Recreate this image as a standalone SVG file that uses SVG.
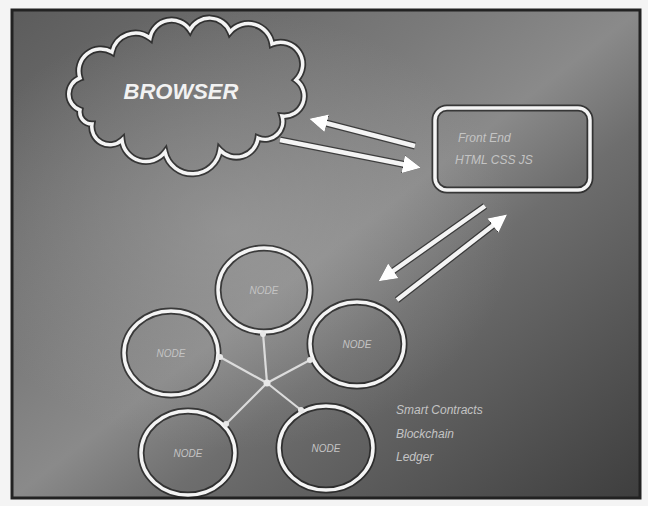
<svg xmlns="http://www.w3.org/2000/svg" width="648" height="506" viewBox="0 0 648 506">
<defs>
<linearGradient id="bg" x1="0" y1="0" x2="1" y2="1">
<stop offset="0" stop-color="#5c5c5c"/>
<stop offset="0.35" stop-color="#7a7a7a"/>
<stop offset="0.5" stop-color="#8a8a8a"/>
<stop offset="0.62" stop-color="#6e6e6e"/>
<stop offset="1" stop-color="#3e3e3e"/>
</linearGradient>
<radialGradient id="glow" cx="0.35" cy="0.45" r="0.45">
<stop offset="0" stop-color="#a8a8a8" stop-opacity="0.5"/>
<stop offset="1" stop-color="#a8a8a8" stop-opacity="0"/>
</radialGradient>
<marker id="head" viewBox="0 0 10 10" refX="5" refY="5" markerWidth="4" markerHeight="4" orient="auto" markerUnits="strokeWidth">
<path d="M0,0 L10,5 L0,10 Z" fill="#ffffff"/>
</marker>
<marker id="headHalo" viewBox="0 0 10 10" refX="5" refY="5" markerWidth="2.6" markerHeight="2.6" orient="auto" markerUnits="strokeWidth">
<path d="M0,0 L10,5 L0,10 Z" fill="#1e1e1e"/>
</marker>
</defs>
<style>
.halo{fill:none;stroke:#1e1e1e;stroke-width:7;stroke-opacity:0.75}
.line{fill:none;stroke:#f4f4f4;stroke-width:3.5}
.thin{fill:none;stroke:#dcdcdc;stroke-width:2.2}
.ah{fill:none;stroke:#f4f4f4;stroke-width:4.5}
.ahh{fill:none;stroke:#1e1e1e;stroke-width:7;stroke-opacity:0.7}
.lbl{font-family:"Liberation Sans",Arial,sans-serif;font-style:italic;font-weight:bold;fill:#f2f2f2}
.faint{font-family:"Liberation Sans",Arial,sans-serif;font-style:italic;fill:#c4c4c4;font-size:10px}
.dot{fill:#e8e8e8}
</style>
<rect x="0" y="0" width="648" height="506" fill="#f4f4f4"/>
<rect x="12" y="10" width="628" height="488" fill="url(#bg)"/>
<rect x="12" y="10" width="628" height="488" fill="url(#glow)"/>
<rect x="12" y="10" width="628" height="488" fill="none" stroke="#222" stroke-width="3"/>

<g id="browser">
<path class="halo" d="M80,110 A17 17 0 0 1 80,78 A22 22 0 0 1 112,52 A24 24 0 0 1 150,38 A22 22 0 0 1 190,30 A22 22 0 0 1 230,32 A24 24 0 0 1 272,44 A22 22 0 0 1 296,80 A20 20 0 0 1 282,116 A18 18 0 0 1 258,138 A22 22 0 0 1 220,150 A28 28 0 0 1 165,152 A24 24 0 0 1 122,140 A18 18 0 0 1 92,124 A12 12 0 0 1 80,110 Z"/>
<path class="line" d="M80,110 A17 17 0 0 1 80,78 A22 22 0 0 1 112,52 A24 24 0 0 1 150,38 A22 22 0 0 1 190,30 A22 22 0 0 1 230,32 A24 24 0 0 1 272,44 A22 22 0 0 1 296,80 A20 20 0 0 1 282,116 A18 18 0 0 1 258,138 A22 22 0 0 1 220,150 A28 28 0 0 1 165,152 A24 24 0 0 1 122,140 A18 18 0 0 1 92,124 A12 12 0 0 1 80,110 Z"/>
<text class="lbl" x="181" y="99" font-size="22" text-anchor="middle">BROWSER</text>
</g>

<g id="frontend">
<rect x="435" y="108" width="155" height="82" rx="12" class="halo"/>
<rect x="435" y="108" width="155" height="82" rx="12" class="line"/>
<text class="faint" x="458" y="142" style="font-size:12px">Front End</text>
<text class="faint" x="455" y="164" style="font-size:12px">HTML CSS JS</text>
</g>

<g id="nodes">
<g id="node-top">
<ellipse cx="264" cy="290" rx="46" ry="42" class="halo"/>
<ellipse cx="264" cy="290" rx="46" ry="42" class="line"/>
<text class="faint" x="264" y="294" text-anchor="middle">NODE</text>
</g>
<g id="node-left">
<ellipse cx="171" cy="353" rx="47" ry="42" class="halo"/>
<ellipse cx="171" cy="353" rx="47" ry="42" class="line"/>
<text class="faint" x="171" y="357" text-anchor="middle">NODE</text>
</g>
<g id="node-right">
<ellipse cx="357" cy="344" rx="47" ry="42" class="halo"/>
<ellipse cx="357" cy="344" rx="47" ry="42" class="line"/>
<text class="faint" x="357" y="348" text-anchor="middle">NODE</text>
</g>
<g id="node-bottom-left">
<ellipse cx="188" cy="453" rx="47" ry="42" class="halo"/>
<ellipse cx="188" cy="453" rx="47" ry="42" class="line"/>
<text class="faint" x="188" y="457" text-anchor="middle">NODE</text>
</g>
<g id="node-bottom-right">
<ellipse cx="326" cy="448" rx="47" ry="42" class="halo"/>
<ellipse cx="326" cy="448" rx="47" ry="42" class="line"/>
<text class="faint" x="326" y="452" text-anchor="middle">NODE</text>
</g>
</g>

<g id="connectors">
<g id="arrow-halos">
<line x1="415" y1="146" x2="318" y2="121" class="ahh" marker-end="url(#headHalo)"/>
<line x1="280" y1="140" x2="412" y2="166" class="ahh" marker-end="url(#headHalo)"/>
<line x1="485" y1="206" x2="386" y2="276" class="ahh" marker-end="url(#headHalo)"/>
<line x1="397" y1="300" x2="500" y2="220" class="ahh" marker-end="url(#headHalo)"/>
</g>
<line x1="415" y1="146" x2="318" y2="121" class="ah" marker-end="url(#head)"/>
<line x1="280" y1="140" x2="412" y2="166" class="ah" marker-end="url(#head)"/>
<line x1="485" y1="206" x2="386" y2="276" class="ah" marker-end="url(#head)"/>
<line x1="397" y1="300" x2="500" y2="220" class="ah" marker-end="url(#head)"/>
<g id="hub">
<line x1="267" y1="383" x2="263" y2="333" class="thin"/>
<line x1="267" y1="383" x2="220" y2="357" class="thin"/>
<line x1="267" y1="383" x2="310" y2="360" class="thin"/>
<line x1="267" y1="383" x2="226" y2="424" class="thin"/>
<line x1="267" y1="383" x2="301" y2="410" class="thin"/>
<circle cx="267" cy="383" r="3.5" class="dot"/>
<circle cx="263" cy="334" r="3" class="dot"/>
<circle cx="220" cy="357" r="3" class="dot"/>
<circle cx="310" cy="360" r="3" class="dot"/>
<circle cx="226" cy="424" r="3" class="dot"/>
<circle cx="301" cy="410" r="3" class="dot"/>
</g>
</g>

<g id="caption">
<text class="faint" x="396" y="414" style="font-size:12px">Smart Contracts</text>
<text class="faint" x="396" y="438" style="font-size:12px">Blockchain</text>
<text class="faint" x="396" y="461" style="font-size:12px">Ledger</text>
</g>
</svg>
